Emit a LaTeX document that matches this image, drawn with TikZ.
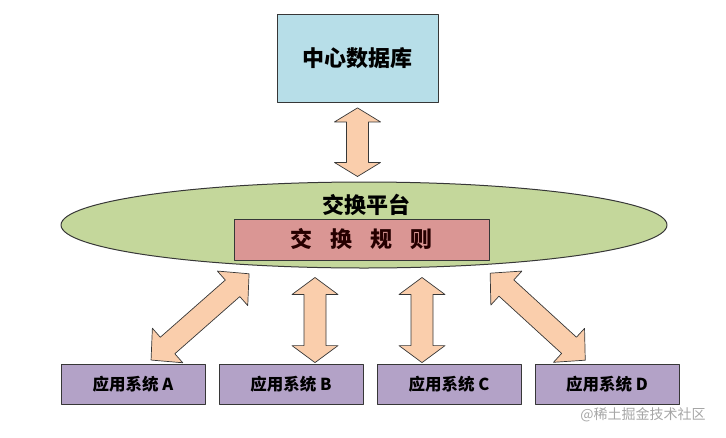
\documentclass[tikz,border=0pt]{standalone}
\usepackage{fontspec}
\setmainfont{Noto Sans CJK SC}
\usetikzlibrary{shapes.geometric,calc}

\definecolor{dbblue}{RGB}{183,222,232}
\definecolor{platgreen}{RGB}{196,215,155}
\definecolor{rulered}{RGB}{218,150,148}
\definecolor{apppurple}{RGB}{179,162,199}
\definecolor{arrowpeach}{RGB}{250,206,172}
\definecolor{linegray}{RGB}{55,55,55}

\def\appsep{158}

% fat double arrow between two points, kept 5pt off both ends;
% optional argument is the head length
\newcommand\fatarrow[3][17]{%
  \path[fat arrow] let \p1=($(#2)!5pt!(#3)$), \p2=($(#3)!5pt!(#2)$),
      \n1={atan2(\y2-\y1,\x2-\x1)}, \n2={veclen(\x2-\x1,\y2-\y1)},
      \n3={\n2-#1pt} in
    {[shift={(\p1)},rotate=\n1]
      (0pt,0pt) -- (#1pt,23pt) -- (#1pt,11pt) -- (\n3,11pt) -- (\n3,23pt)
      -- (\n2,0pt) -- (\n3,-23pt) -- (\n3,-11pt) -- (#1pt,-11pt)
      -- (#1pt,-23pt) -- cycle};
}

\begin{document}
\begin{tikzpicture}[x=1pt,y=-1pt,line join=round]
        \tikzstyle{box}=[draw=linegray,line width=0.8pt,inner sep=0pt]
        \tikzstyle{db box}=[box,fill=dbblue,minimum width=161pt,minimum height=88pt,
                            font=\bfseries\fontsize{22}{22}\selectfont]
        \tikzstyle{platform}=[ellipse,draw=linegray,line width=1pt,fill=platgreen,
                              minimum width=606pt,minimum height=86pt,inner sep=0pt]
        \tikzstyle{plat label}=[font=\bfseries\fontsize{22}{22}\selectfont]
        \tikzstyle{rule box}=[box,fill=rulered,minimum width=255pt,minimum height=41pt,
                              text=black!85!red,font=\bfseries\fontsize{22}{22}\selectfont]
        \tikzstyle{app box}=[box,fill=apppurple,minimum width=144pt,minimum height=40pt,
                             font=\bfseries\fontsize{16.5}{16.5}\selectfont]
        \tikzstyle{fat arrow}=[fill=arrowpeach,draw=linegray,line width=0.7pt]
        \tikzstyle{wm text}=[text=black!35,font=\fontsize{14}{14}\selectfont]

        \useasboundingbox (0,0) rectangle (726,437);

        % Draw the central database
        \node[db box] (db) at (357.5,58.5) {中心数据库};

        % Draw the exchange platform with its rules
        \node[platform] (plat) at (364,225) {};
        \node[plat label] (platname) at (366,205) {交换平台};
        \node[rule box] (rule) at (361.5,239.5) {交\hspace{18pt}换\hspace{18pt}规\hspace{18pt}则};

        % Draw the application systems
        \foreach \name [count=\i from 0] in {A,B,C,D}
            \node[app box] (app\name) at (133+\i*\appsep,384) {应用系统 \name};

        % Arrow ends next to the platform and the application systems
        \coordinate (p-A) at ($(plat.200)+(0,5)$);
        \coordinate (a-A) at ($(appA.north)+(14,0)$);
        \coordinate (a-B) at ($(appB.north)+(24,4)$);
        \coordinate (p-B) at ($(a-B |- plat.south)+(0,4)$);
        \coordinate (a-C) at ($(appC.north)+(-27,4)$);
        \coordinate (p-C) at ($(a-C |- plat.south)+(0,4)$);
        \coordinate (p-D) at ($(plat.-18)+(0,5)$);
        \coordinate (a-D) at ($(appD.north)+(-18,0)$);
        \coordinate (a-top) at (db.south |- plat.north);

        % Connect the database and every system with the platform
        \fatarrow[14]{db.south}{a-top}
        \fatarrow[22]{p-A}{a-A}
        \fatarrow{p-B}{a-B}
        \fatarrow{p-C}{a-C}
        \fatarrow[22]{p-D}{a-D}

        % Site mark
        \node[wm text] (wm) at (643,415) {@稀土掘金技术社区};
\end{tikzpicture}
\end{document}
